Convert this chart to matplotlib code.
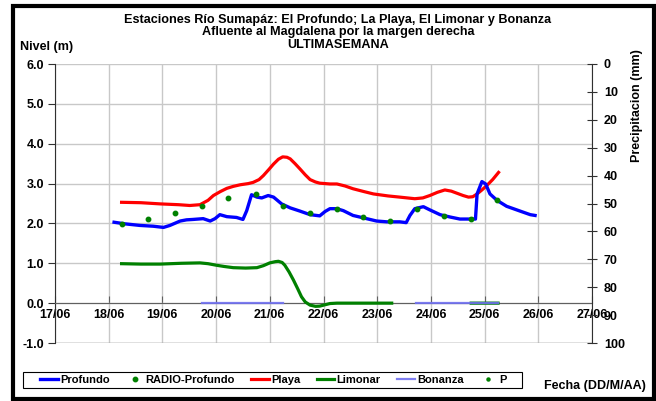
import matplotlib
matplotlib.use("Agg")
import matplotlib.pyplot as plt
import numpy as np
from matplotlib.patches import Rectangle

plt.rcParams['font.family'] = ['Liberation Sans', 'DejaVu Sans']
plt.rcParams['font.weight'] = 'bold'

# x = dias desde 17/06 00:00
fechas = ["17/06", "18/06", "19/06", "20/06", "21/06", "22/06",
          "23/06", "24/06", "25/06", "26/06", "27/06"]

profundo_x = [1.10, 1.30, 1.58, 1.83, 2.02, 2.14, 2.33, 2.45, 2.57, 2.76, 2.89,
              2.98, 3.07, 3.20, 3.38, 3.50, 3.57, 3.66, 3.76, 3.85, 3.97, 4.07,
              4.22, 4.38, 4.56, 4.75, 4.87, 4.93, 5.03, 5.12, 5.25, 5.37, 5.55,
              5.74, 5.99, 6.18, 6.42, 6.54, 6.61, 6.70, 6.86, 6.98, 7.17, 7.36,
              7.54, 7.83, 7.86, 7.95, 8.02, 8.10, 8.23, 8.41, 8.66, 8.85, 8.94]
profundo_y = [2.03, 1.99, 1.95, 1.93, 1.90, 1.95, 2.06, 2.09, 2.10, 2.12, 2.06,
              2.12, 2.22, 2.17, 2.15, 2.10, 2.32, 2.72, 2.66, 2.64, 2.70, 2.66,
              2.49, 2.39, 2.31, 2.22, 2.20, 2.19, 2.30, 2.37, 2.37, 2.32, 2.20,
              2.14, 2.06, 2.04, 2.04, 2.02, 2.20, 2.37, 2.42, 2.34, 2.22, 2.16,
              2.11, 2.11, 2.74, 3.05, 2.99, 2.74, 2.58, 2.43, 2.31, 2.22, 2.20]

radio_x = [1.24, 1.74, 2.23, 2.73, 3.23, 3.74, 4.24, 4.74,
           5.25, 5.74, 6.24, 6.74, 7.24, 7.74, 8.24]
radio_y = [1.99, 2.10, 2.26, 2.43, 2.63, 2.74, 2.43, 2.26,
           2.36, 2.16, 2.06, 2.36, 2.18, 2.10, 2.58]

playa_x = [1.24, 1.60, 1.96, 2.30, 2.51, 2.70, 2.85, 2.95, 3.08, 3.20, 3.32,
           3.45, 3.60, 3.69, 3.80, 3.88, 3.98, 4.07, 4.16, 4.24, 4.32, 4.38,
           4.47, 4.56, 4.66, 4.75, 4.85, 4.93, 5.12, 5.25, 5.40, 5.55, 5.75,
           5.93, 6.20, 6.42, 6.70, 6.85, 6.98, 7.12, 7.26, 7.38, 7.48, 7.60,
           7.70, 7.78, 7.85, 7.95, 8.04, 8.15, 8.26]
playa_y = [2.53, 2.52, 2.49, 2.47, 2.45, 2.47, 2.58, 2.70, 2.80, 2.88, 2.93,
           2.97, 3.00, 3.03, 3.10, 3.20, 3.35, 3.49, 3.61, 3.67, 3.66, 3.62,
           3.50, 3.37, 3.22, 3.10, 3.04, 3.01, 2.99, 2.99, 2.94, 2.87, 2.80,
           2.74, 2.69, 2.66, 2.62, 2.64, 2.70, 2.78, 2.84, 2.81, 2.76, 2.70,
           2.66, 2.67, 2.73, 2.84, 2.95, 3.10, 3.28]

limonar_x = [1.24, 1.60, 1.96, 2.35, 2.70, 2.85, 3.01, 3.15, 3.32, 3.55, 3.76,
             3.88, 4.00, 4.10, 4.16, 4.23, 4.28, 4.36, 4.44, 4.52, 4.59, 4.66,
             4.75, 4.85, 4.93, 5.03, 5.12, 5.25, 5.50, 6.27, 6.50, 7.75, 8.25]
limonar_y = [0.99, 0.98, 0.98, 1.00, 1.01, 0.99, 0.95, 0.92, 0.89, 0.88, 0.89,
             0.94, 1.01, 1.04, 1.05, 1.02, 0.95, 0.78, 0.58, 0.36, 0.16, 0.03,
             -0.05, -0.08, -0.075, -0.04, -0.01, 0.0, 0.0, 0.0, np.nan, 0.0, 0.0]

bonanza_x = [2.73, 4.25, 5.0, 6.73, 8.25]
bonanza_y = [0.0, 0.0, np.nan, 0.0, 0.0]

p_x = []
p_y = []

W, H = 656, 401
fig = plt.figure(figsize=(W / 100, H / 100), dpi=100)
ax = fig.add_axes([55 / W, 1 - 343 / H, (592 - 55) / W, (343 - 64) / H])

ax.plot(profundo_x, profundo_y, color='#0000ff', lw=2.4, label='Profundo', zorder=4)
ax.plot(radio_x, radio_y, ls='none', marker='o', ms=3.2, color='#008000',
        label='RADIO-Profundo', zorder=5)
ax.plot(playa_x, playa_y, color='#ff0000', lw=2.3, label='Playa', zorder=3)
ax.plot(limonar_x, limonar_y, color='#008000', lw=2.3, label='Limonar', zorder=3)
ax.plot(bonanza_x, bonanza_y, color='#7070f0', lw=1.6, alpha=0.9, label='Bonanza', zorder=4)
ax.plot(p_x, p_y, ls='none', marker='o', ms=2.2, color='#008000', label='P')

ax.set_xlim(0, 10)
ax.set_ylim(-1, 6)
ax.set_xticks(range(len(fechas)))
ax.set_xticklabels(fechas)
ax.set_yticks(np.arange(-1, 7, 1))
ax.set_yticklabels([f"{v:.1f}" for v in np.arange(-1, 7, 1)])
ax.grid(True, color='#c8c8c8', lw=1.0, zorder=0)
ax.set_axisbelow(True)

for s in ['top', 'right']:
    ax.spines[s].set_visible(False)
ax.spines['bottom'].set_position(('data', 0))
ax.spines['bottom'].set_color('#606060')
ax.spines['left'].set_color('#303030')
ax.axhline(-1, color='#909090', lw=1.0, zorder=1)

ax.tick_params(axis='x', direction='in', length=5, pad=4, labelsize=9, color='#606060')
ax.tick_params(axis='y', direction='out', length=5, pad=3, labelsize=9, color='#303030')

ax2 = ax.twinx()
ax2.set_ylim(100, 0)
ax2.set_yticks(range(0, 101, 10))
for s in ['top', 'left', 'bottom']:
    ax2.spines[s].set_visible(False)
ax2.spines['right'].set_color('#303030')
ax2.tick_params(axis='y', direction='inout', length=7, pad=5, labelsize=9, color='#303030')

fig.text(338 / W, 1 - 23 / H,
         "Estaciones Río Sumapáz: El Profundo; La Playa, El Limonar y Bonanza",
         ha='center', va='baseline', fontsize=9.1, fontweight='bold')
fig.text(338 / W, 1 - 35 / H, "Afluente al Magdalena por la margen derecha",
         ha='center', va='baseline', fontsize=9.1, fontweight='bold')
fig.text(338 / W, 1 - 48 / H, "ULTIMASEMANA",
         ha='center', va='baseline', fontsize=9.1, fontweight='bold')
fig.text(20 / W, 1 - 47 / H, "Nivel (m)", ha='left', va='center',
         fontsize=9, fontweight='bold')
fig.text(637 / W, 1 - 106 / H, "Precipitacion (mm)", rotation=90,
         ha='center', va='center', fontsize=9, fontweight='bold')
fig.text(646 / W, 1 - 386 / H, "Fecha (DD/M/AA)", ha='right', va='center',
         fontsize=9, fontweight='bold')

# leyenda sin marco; el marco se dibuja aparte
fig.legend(loc='center left', bbox_to_anchor=(40 / W, 1 - 380 / H),
           ncol=6, fontsize=8, frameon=False,
           handlelength=1.6, handletextpad=0.2, columnspacing=1.45,
           borderpad=0, borderaxespad=0)
fig.patches.append(Rectangle((23 / W, 1 - 388 / H), (522 - 23) / W, 16 / H,
                             transform=fig.transFigure, fill=False,
                             edgecolor='black', lw=0.8))

fig.patches.append(Rectangle((13 / W, 2 / H), 641 / W, 393.5 / H, transform=fig.transFigure,
                             fill=False, edgecolor='black', lw=3.0))

fig.savefig('out.png', dpi=100)
